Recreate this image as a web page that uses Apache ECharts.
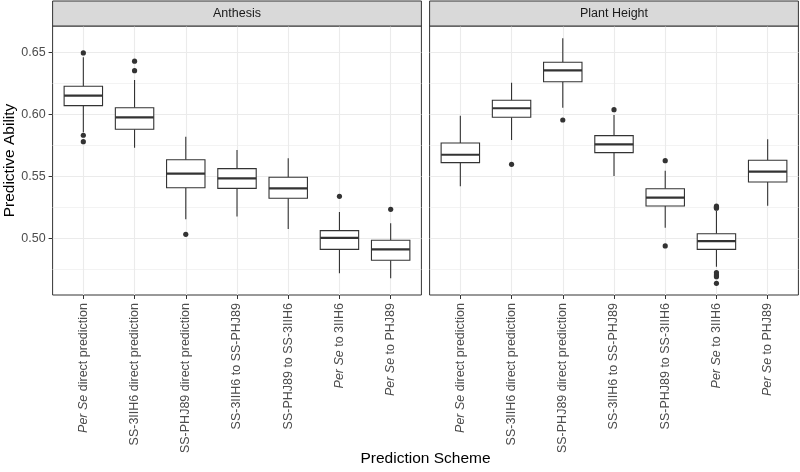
<!DOCTYPE html>
<html>
<head>
<meta charset="utf-8">
<script src="https://cdn.jsdelivr.net/npm/echarts@6/dist/echarts.min.js"></script>
<style>html,body{margin:0;padding:0;background:#fff;}#chart{width:800px;height:472px;}</style>
</head>
<body>
<div id="chart"></div>
<script>
// ---- data ----
const categories = [
  'Per Se direct prediction',
  'SS-3IIH6 direct prediction',
  'SS-PHJ89 direct prediction',
  'SS-3IIH6 to SS-PHJ89',
  'SS-PHJ89 to SS-3IIH6',
  'Per Se to 3IIH6',
  'Per Se to PHJ89'
];
const facetNames = ['Anthesis', 'Plant Height'];
const yTicks = [0.50, 0.55, 0.60, 0.65];
const yMinorTicks = [0.475, 0.525, 0.575, 0.625];
const yRange = [0.4546, 0.6715];

// [lower whisker, Q1, median, Q3, upper whisker]
const anthesisBoxes = [
  [0.5858, 0.6073, 0.6153, 0.6229, 0.6463],
  [0.5734, 0.5882, 0.5979, 0.6056, 0.6280],
  [0.5156, 0.5411, 0.5524, 0.5637, 0.5823],
  [0.5178, 0.5406, 0.5487, 0.5565, 0.5715],
  [0.5078, 0.5326, 0.5406, 0.5495, 0.5648],
  [0.4721, 0.4914, 0.5006, 0.5065, 0.5215],
  [0.4681, 0.4826, 0.4914, 0.4987, 0.5124]
];
const anthesisOutliers = [
  [0, 0.6498], [0, 0.5834], [0, 0.5782],
  [1, 0.6431], [1, 0.6355],
  [2, 0.5035],
  [5, 0.5342],
  [6, 0.5237]
];
const heightBoxes = [
  [0.5423, 0.5613, 0.5677, 0.5772, 0.5992],
  [0.5796, 0.5979, 0.6052, 0.6116, 0.6258],
  [0.6056, 0.6266, 0.6358, 0.6423, 0.6616],
  [0.5506, 0.5694, 0.5761, 0.5831, 0.5998],
  [0.5089, 0.5264, 0.5331, 0.5403, 0.5548],
  [0.4774, 0.4914, 0.4981, 0.5040, 0.5226],
  [0.5266, 0.5457, 0.5540, 0.5632, 0.5802]
];
const heightOutliers = [
  [1, 0.5600],
  [2, 0.5957],
  [3, 0.6040],
  [4, 0.5629], [4, 0.4942],
  [5, 0.5262], [5, 0.5253], [5, 0.5246],
  [5, 0.4726], [5, 0.4707], [5, 0.4694], [5, 0.4640]
];

// ---- styling / layout ----
const FONT = 'Liberation Sans, Arial, Helvetica, sans-serif';
const DARK = '#333333';
const GRIDC = '#EBEBEB';
const panels = [
  { left: 52.6, right: 421.4 },
  { left: 429.6, right: 798.4 }
];
const panelTop = 26, panelBottom = 295;
const catIdx = categories.map((c, i) => i);

function labelFmt(v) {
  const name = categories[Math.round(v)];
  if (name === undefined) return '';
  if (name.indexOf('Per Se') === 0) return '{i|Per Se}' + name.slice(6);
  return name;
}

function renderBox(params, api) {
  const x = api.value(0);
  const lo = api.coord([x, api.value(1)]);
  const q1 = api.coord([x, api.value(2)]);
  const md = api.coord([x, api.value(3)]);
  const q3 = api.coord([x, api.value(4)]);
  const hi = api.coord([x, api.value(5)]);
  const w = api.size([1, 0])[0] * 0.75;
  const cx = lo[0];
  const ls = { stroke: DARK, lineWidth: 1.1 };
  return {
    type: 'group',
    children: [
      { type: 'line', shape: { x1: cx, y1: hi[1], x2: cx, y2: q3[1] }, style: ls },
      { type: 'line', shape: { x1: cx, y1: q1[1], x2: cx, y2: lo[1] }, style: ls },
      { type: 'rect', shape: { x: cx - w / 2, y: q3[1], width: w, height: q1[1] - q3[1] },
        style: { fill: '#ffffff', stroke: DARK, lineWidth: 1.1 } },
      { type: 'line', shape: { x1: cx - w / 2, y1: md[1], x2: cx + w / 2, y2: md[1] },
        style: { stroke: DARK, lineWidth: 2.2 } }
    ]
  };
}

const grids = [], xAxes = [], yAxes = [], series = [], graphics = [];
const boxSets = [anthesisBoxes, heightBoxes];
const outlierSets = [anthesisOutliers, heightOutliers];

panels.forEach((p, k) => {
  grids.push({
    left: p.left, width: p.right - p.left, top: panelTop, height: panelBottom - panelTop,
    show: true, borderColor: DARK, borderWidth: 1, backgroundColor: '#ffffff', containLabel: false
  });
  xAxes.push({
    type: 'value', gridIndex: k, min: -0.6, max: categories.length - 0.4, position: 'bottom',
    axisLine: { show: false, onZero: false },
    axisTick: { show: true, length: 4, customValues: catIdx, lineStyle: { color: DARK, width: 1 } },
    axisLabel: {
      customValues: catIdx, rotate: 90, margin: 8, formatter: labelFmt,
      color: '#4D4D4D', fontSize: 12.5, fontFamily: FONT,
      rich: { i: { fontStyle: 'italic', color: '#4D4D4D', fontSize: 12.5, fontFamily: FONT } }
    },
    splitLine: { show: true, lineStyle: { color: GRIDC, width: 1.1 } }
  });
  // major y
  yAxes.push({
    type: 'value', gridIndex: k, min: yRange[0], max: yRange[1], position: 'left',
    axisLine: { show: false, onZero: false },
    axisTick: { show: k === 0, length: 4, customValues: yTicks, lineStyle: { color: DARK, width: 1 } },
    axisLabel: {
      show: k === 0, customValues: yTicks, margin: 7,
      formatter: v => v.toFixed(2),
      color: '#4D4D4D', fontSize: 12.5, fontFamily: FONT
    },
    splitLine: { show: true, lineStyle: { color: GRIDC, width: 1.1 } }
  });
  // minor y
  yAxes.push({
    type: 'value', gridIndex: k, min: yRange[0], max: yRange[1], position: 'left',
    axisLine: { show: false, onZero: false },
    axisTick: { show: false, customValues: yMinorTicks },
    axisLabel: { show: false, customValues: yMinorTicks },
    splitLine: { show: true, lineStyle: { color: '#F0F0F0', width: 0.8 } }
  });

  series.push({
    type: 'custom', xAxisIndex: k, yAxisIndex: k * 2,
    renderItem: renderBox, silent: true, clip: false,
    encode: { x: 0, y: [1, 2, 3, 4, 5] },
    data: boxSets[k].map((b, i) => [i].concat(b)),
    z: 2
  });
  series.push({
    type: 'scatter', xAxisIndex: k, yAxisIndex: k * 2,
    symbol: 'circle', symbolSize: 5.2, silent: true,
    itemStyle: { color: DARK, opacity: 1 },
    data: outlierSets[k],
    z: 3
  });

  // strip
  graphics.push({
    type: 'rect', silent: true,
    shape: { x: p.left, y: 1, width: p.right - p.left, height: panelTop - 1 },
    style: { fill: '#D9D9D9', stroke: DARK, lineWidth: 1 }, z: 10
  });
  graphics.push({
    type: 'text', silent: true, x: (p.left + p.right) / 2, y: (panelTop + 1) / 2 + 0.5,
    style: { text: facetNames[k], fill: '#1A1A1A', font: '12.5px ' + FONT,
      textAlign: 'center', textVerticalAlign: 'middle', align: 'center', verticalAlign: 'middle' },
    z: 11
  });
});

graphics.push({
  type: 'text', silent: true, x: 9.5, y: (panelTop + panelBottom) / 2, rotation: Math.PI / 2,
  style: { text: 'Predictive Ability', fill: '#000000', font: '15.5px ' + FONT,
    textAlign: 'center', textVerticalAlign: 'middle', align: 'center', verticalAlign: 'middle' }
});
graphics.push({
  type: 'text', silent: true, x: (panels[0].left + panels[1].right) / 2, y: 459,
  style: { text: 'Prediction Scheme', fill: '#000000', font: '15.5px ' + FONT,
    textAlign: 'center', textVerticalAlign: 'middle', align: 'center', verticalAlign: 'middle' }
});

const chart = echarts.init(document.getElementById('chart'), null, { renderer: 'canvas' });
chart.setOption({
  animation: false,
  backgroundColor: '#ffffff',
  textStyle: { fontFamily: FONT },
  grid: grids,
  xAxis: xAxes,
  yAxis: yAxes,
  series: series,
  graphic: graphics
});
</script>
</body>
</html>
